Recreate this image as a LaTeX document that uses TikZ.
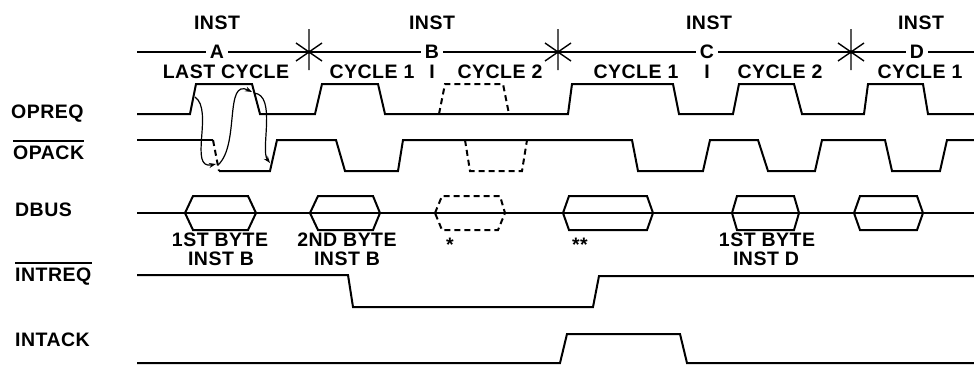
\documentclass[tikz,border=0pt]{standalone}
\usepackage{fontspec}
\setmainfont{Liberation Sans}[LetterSpace=2.5]
\usetikzlibrary{arrows.meta}
\begin{document}
\begin{tikzpicture}[x=1pt,y=-1pt,
 lbl/.style={font=\fontsize{19.5}{19.5}\selectfont\bfseries, inner sep=0pt},
 hlet/.style={lbl, fill=white, inner xsep=4pt, inner ysep=1pt},
 wave/.style={line width=2pt, line join=miter},
 dwave/.style={wave, dash pattern=on 6pt off 4pt},
 hdr/.style={line width=1.4pt},
 ovl/.style={line width=1.2pt},
 loopline/.style={line width=1.2pt, -{Stealth[length=7pt,width=5pt]}},
 ]
\useasboundingbox (0,0) rectangle (974,365);

% ---------- signal names ----------
\node[lbl,anchor=west] (opreq) at (11,114) {OPREQ};
\node[lbl,anchor=west] (opack) at (13,153) {OPACK};
\draw[ovl] ([yshift=5pt]opack.north west) -- ([yshift=5pt]opack.north east);
\node[lbl,anchor=west] (dbus) at (15,210) {DBUS};
\node[lbl,anchor=west] (intreq) at (15,277) {INTREQ};
\draw[ovl] ([yshift=5pt]intreq.north west) -- ([yshift=5pt]intreq.north east);
\node[lbl,anchor=west] (intack) at (15,340) {INTACK};

% ---------- header ----------
\draw[hdr] (137,52) -- (974,52);
\foreach \x in {309,558,851}
  \draw[hdr] (\x,29) -- (\x,70) (\x-13,43) -- (\x+13,61) (\x-13,61) -- (\x+13,43);

\node[lbl] (ia) at (217,23) {INST};
\node[hlet] (a) at (217,52) {A};
\node[lbl] (lc) at (226,72) {LAST CYCLE};

\node[lbl] (ib) at (432,23) {INST};
\node[hlet] (b) at (432,52) {B};
\node[lbl] (bi) at (432,72) {I};
\node[lbl] (b1) at (372,72) {CYCLE 1};
\node[lbl] (b2) at (500,72) {CYCLE 2};

\node[lbl] (ic) at (709,23) {INST};
\node[hlet] (c) at (707,52) {C};
\node[lbl] (ci) at (707,72) {I};
\node[lbl] (c1) at (636,72) {CYCLE 1};
\node[lbl] (c2) at (780,72) {CYCLE 2};

\node[lbl] (id) at (921,23) {INST};
\node[hlet] (d) at (917,52) {D};
\node[lbl] (d1) at (920,72) {CYCLE 1};

% ---------- OPREQ ----------
\draw[wave] (137,114) -- (190,114) -- (196,84) -- (252,84) -- (260,114) -- (315,114)
  -- (322,84) -- (378,84) -- (385,114) -- (568,114) -- (572,84) -- (673,84) -- (679,114)
  -- (733,114) -- (739,84) -- (794,84) -- (802,114) -- (864,114) -- (868,84) -- (923,84)
  -- (928,114) -- (974,114);
\draw[dwave] (439,114) -- (445,84) -- (503,84) -- (509,114);

% ---------- OPACK ----------
\draw[wave] (137,140) -- (213,140);
\draw[dwave] (213,140) -- (219,171);
\draw[wave] (219,171) -- (270,171) -- (277,140) -- (336,140) -- (345,171) -- (398,171)
  -- (403,140) -- (632,140) -- (638,171) -- (703,171) -- (710,140) -- (758,140)
  -- (768,171) -- (815,171) -- (822,140) -- (885,140) -- (892,171) -- (940,171)
  -- (947,140) -- (974,140);
\draw[dwave] (465,140) -- (470,171) -- (522,171) -- (527,140);

% ---------- handshake arrows ----------
\coordinate (r1) at (195,97);
\coordinate (f1) at (216,164);
\coordinate (f1s) at (218,165);
\coordinate (f2) at (252,92);
\coordinate (f2s) at (254,93);
\coordinate (r2) at (270,163);
\draw[loopline] (r1) .. controls (214,110) and (188,170) .. (f1);
\draw[loopline] (f1s) .. controls (240,145) and (224,78) .. (f2);
\draw[loopline] (f2s) .. controls (277,95) and (260,150) .. (r2);

% ---------- DBUS ----------
\draw[wave] (137,213) -- (974,213);
\foreach \l/\tl/\tr/\r in {185/193/248/256, 310/318/373/380, 563/569/647/653, 732/737/794/799, 854/860/917/923}
  \draw[wave] (\l,213) -- (\tl,196) -- (\tr,196) -- (\r,213) -- (\tr,230) -- (\tl,230) -- cycle;
\draw[dwave] (435,213) -- (442,196) -- (500,196) -- (505,213) -- (498,230) -- (442,230) -- cycle;

\node[lbl] (by1) at (220,240) {1ST BYTE};
\node[lbl] (ib1) at (221,259) {INST B};
\node[lbl] (by2) at (347,240) {2ND BYTE};
\node[lbl] (ib2) at (347,259) {INST B};
\node[lbl] (st1) at (450,245) {*};
\node[lbl] (st2) at (580,245) {**};
\node[lbl] (by3) at (767,240) {1ST BYTE};
\node[lbl] (id3) at (766,259) {INST D};

% ---------- INTREQ ----------
\draw[wave] (137,275) -- (348,275) -- (353,307) -- (593,307) -- (599,276) -- (974,276);

% ---------- INTACK ----------
\draw[wave] (137,363) -- (560,363) -- (567,334) -- (680,334) -- (687,363) -- (974,363);
\end{tikzpicture}
\end{document}
